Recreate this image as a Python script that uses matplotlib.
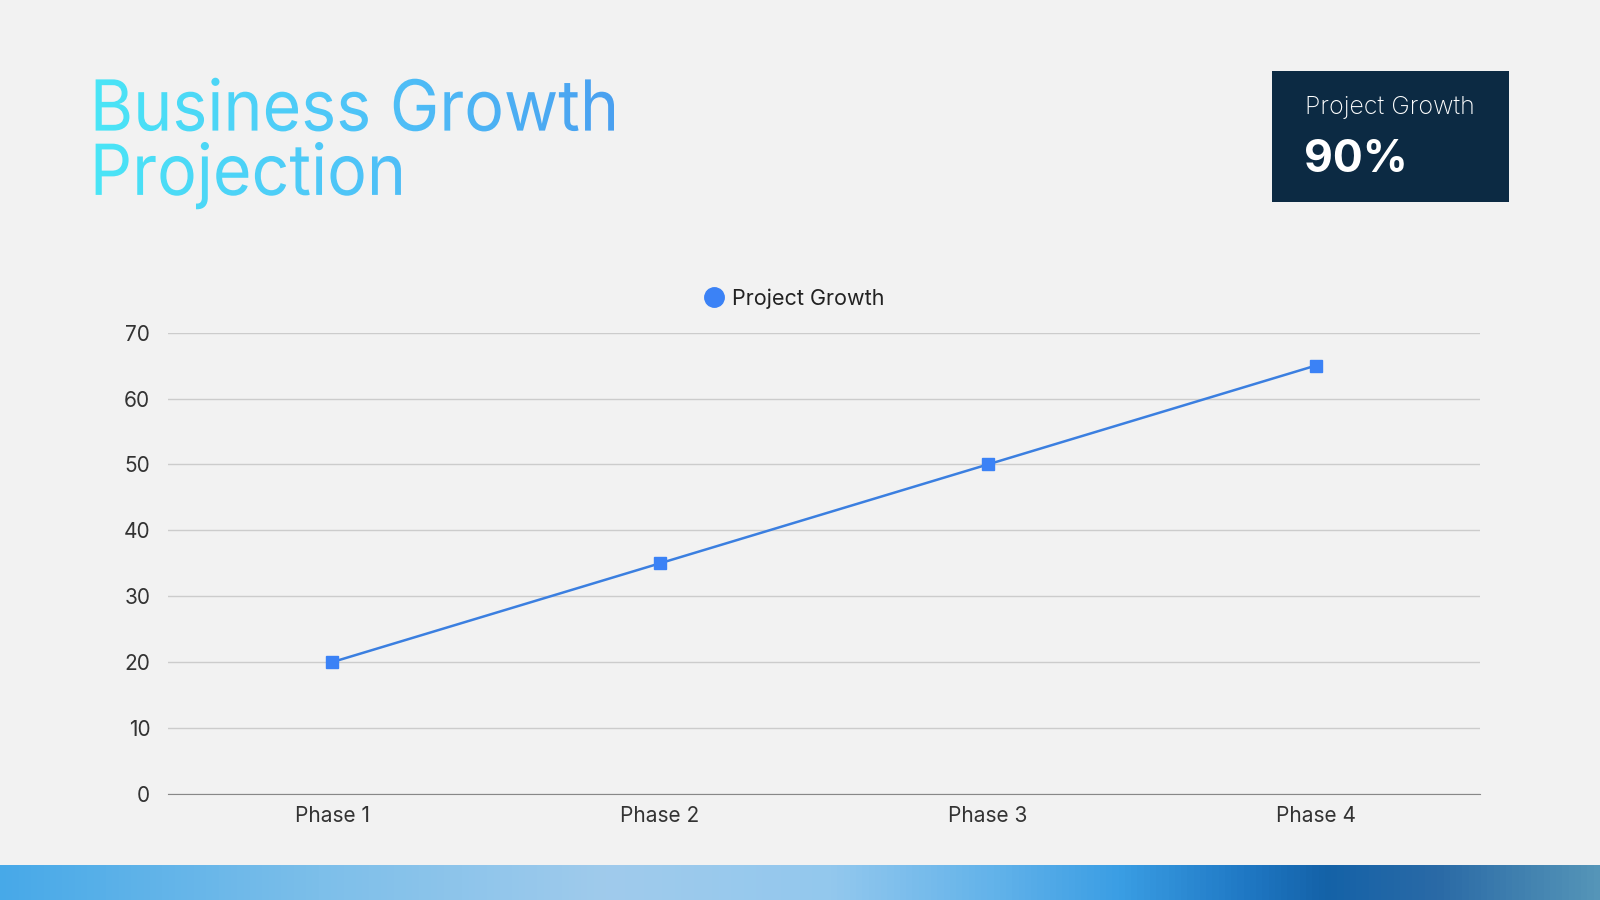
import numpy as np
import matplotlib
matplotlib.use("Agg")
import matplotlib.pyplot as plt
from matplotlib.textpath import TextPath
from matplotlib.patches import PathPatch, Rectangle
from matplotlib.font_manager import FontProperties
from matplotlib.transforms import Affine2D
from matplotlib.colors import LinearSegmentedColormap

phases = ["Phase 1", "Phase 2", "Phase 3", "Phase 4"]
growth = [20, 35, 50, 65]
y_ticks = [0, 10, 20, 30, 40, 50, 60, 70]
series_name = "Project Growth"
kpi_label = "Project Growth"
kpi_value = "90%"
title_lines = ["Business Growth", "Projection"]

BG = "#f2f2f2"
LINE = "#3b7fe0"
MARK = "#3b82f6"
NAVY = "#0c2a43"

plt.rcParams["font.family"] = ["Inter", "DejaVu Sans"]

fig = plt.figure(figsize=(16, 9), dpi=100, facecolor=BG)

# overlay axes in reference pixel units (1568x882, y downwards)
bg = fig.add_axes([0, 0, 1, 1], zorder=0)
bg.axis("off")

# gradient title, squeezed a bit to the reference width
fp = FontProperties(family="Inter", weight="normal")
tcmap = LinearSegmentedColormap.from_list("t", ["#4ae6f6", "#4fc4f8", "#4a9ff0"])
paths = [TextPath((0, 0), line, size=69, prop=fp) for line in title_lines]
w0 = paths[0].get_extents().width
xs = 508 / w0
for tp, base in zip(paths, [128, 191]):
    tr = Affine2D().scale(xs, -1).translate(88, base) + bg.transData
    patch = PathPatch(tp, transform=tr, facecolor="none", edgecolor="none")
    bg.add_patch(patch)
    im = bg.imshow(np.linspace(0, 1, 256)[None, :], cmap=tcmap,
                   extent=[86, 612, base + 22, base - 62], aspect="auto", zorder=2)
    im.set_clip_path(patch)

# KPI box
bg.add_patch(Rectangle((1247, 70), 232, 128, facecolor=NAVY, edgecolor="none", zorder=2))
bg.text(1279, 105, kpi_label, color="white", fontsize=18, va="center", ha="left",
        fontweight="light", zorder=3)
bg.text(1278, 157, kpi_value, color="white", fontsize=32, va="center", ha="left",
        fontweight="bold", zorder=3)

# bottom gradient bar
bar = LinearSegmentedColormap.from_list("b", [
    (0.0, "#47a9e8"), (0.2, "#7dbfea"), (0.38, "#a0cbec"), (0.52, "#93c8ee"),
    (0.62, "#63b3ea"), (0.7, "#3a9ee4"), (0.78, "#1f78c4"), (0.83, "#1462a8"),
    (0.9, "#2a6aa6"), (1.0, "#5595b8")])
bg.imshow(np.linspace(0, 1, 512)[None, :], cmap=bar, extent=[0, 1568, 882, 848],
          aspect="auto", zorder=1)
bg.set_xlim(0, 1568)
bg.set_ylim(882, 0)

# chart
ax = fig.add_axes([165 / 1568, 1 - 778 / 882, (1450 - 165) / 1568, (778 - 326) / 882],
                  zorder=3)
ax.set_facecolor("none")
x = np.arange(len(phases))
ax.plot(x, growth, color=LINE, linewidth=1.8, marker="s", markersize=8,
        markerfacecolor=MARK, markeredgecolor=MARK, label=series_name)
ax.set_xlim(-0.5, len(phases) - 0.5)
ax.set_ylim(0, 70)
ax.set_yticks(y_ticks)
ax.set_xticks(x)
ax.set_xticklabels(phases)
ax.grid(axis="y", color="#cccccc", linewidth=1)
ax.set_axisbelow(True)
for s in ["top", "right", "left"]:
    ax.spines[s].set_visible(False)
ax.spines["bottom"].set_color("#888888")
ax.tick_params(axis="both", length=0, labelsize=15, labelcolor="#333333")
ax.tick_params(axis="y", pad=13)
ax.tick_params(axis="x", pad=9)

ax.legend(handles=[plt.Line2D([], [], marker="o", linestyle="none", markersize=14,
                              color=MARK)],
          labels=[series_name], loc="lower center", bbox_to_anchor=(0.476, 1.01),
          frameon=False, fontsize=15.5, handletextpad=0.25, handlelength=1.2,
          labelcolor="#222222")

fig.savefig("out.png", dpi=100, facecolor=BG)
